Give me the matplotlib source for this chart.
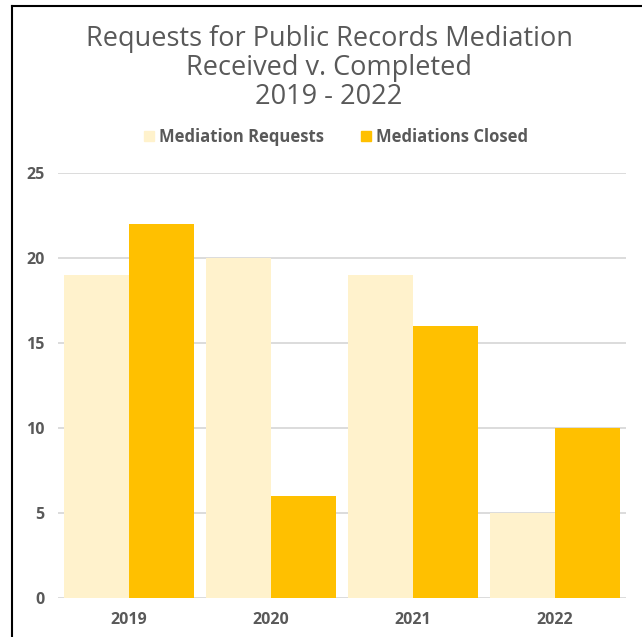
import numpy as np
from matplotlib import pyplot as plt
from matplotlib.lines import Line2D
from matplotlib.patches import Patch


# Data
years = ["2019", "2020", "2021", "2022"]
mediation_requests = [19, 20, 19, 5]
mediations_closed = [22, 6, 16, 10]
y_ticks = [0, 5, 10, 15, 20, 25]

cream = "#FFF2CC"
gold = "#FFC000"
gray_text = "#595959"

plt.rcParams["font.family"] = ["Open Sans", "DejaVu Sans"]

fig = plt.figure(figsize=(6.42, 6.37), dpi=100)
ax = fig.add_axes([58 / 642, 39 / 637, 568 / 642, 425 / 637])

x = np.arange(len(years))
width = 0.455
ax.bar(x - width / 2, mediation_requests, width, color=cream, zorder=2)
ax.bar(x + width / 2, mediations_closed, width, color=gold, zorder=2)

ax.set_xlim(-0.5, len(years) - 0.5)
ax.set_ylim(0, 25)
ax.set_yticks(y_ticks)
ax.set_xticks(x)
ax.set_xticklabels(years)
ax.grid(axis="y", color="#D9D9D9", linewidth=1.3, zorder=0)
ax.tick_params(length=0, labelsize=11.5, labelcolor=gray_text)
ax.tick_params(axis="x", pad=10)
ax.tick_params(axis="y", pad=9.5)
for label in ax.get_xticklabels() + ax.get_yticklabels():
    label.set_fontweight("bold")
for spine in ax.spines.values():
    spine.set_visible(False)

# Title
fig.text(329 / 642, 1 - 68 / 637,
         "Requests for Public Records Mediation\nReceived v. Completed\n2019 - 2022",
         ha="center", va="center", fontsize=19.5, color=gray_text, linespacing=1.07,
         fontweight="medium")

# Legend
handles = [Patch(color=cream), Patch(color=gold)]
fig.legend(handles, ["Mediation Requests", "Mediations Closed"], loc="center",
           bbox_to_anchor=(336 / 642, 1 - 137 / 637), ncol=2, frameon=False,
           handlelength=0.6, handleheight=0.6, handletextpad=0.3, columnspacing=2.2,
           prop={"weight": "bold", "size": 12}, labelcolor=gray_text)

# Screenshot border
fig.add_artist(Line2D([12 / 642, 12 / 642], [0, 1 - 6 / 637], color="black", linewidth=1.5))
fig.add_artist(Line2D([12 / 642, 1], [1 - 6 / 637, 1 - 6 / 637], color="black", linewidth=1.5))

fig.savefig("out.png", dpi=100)
